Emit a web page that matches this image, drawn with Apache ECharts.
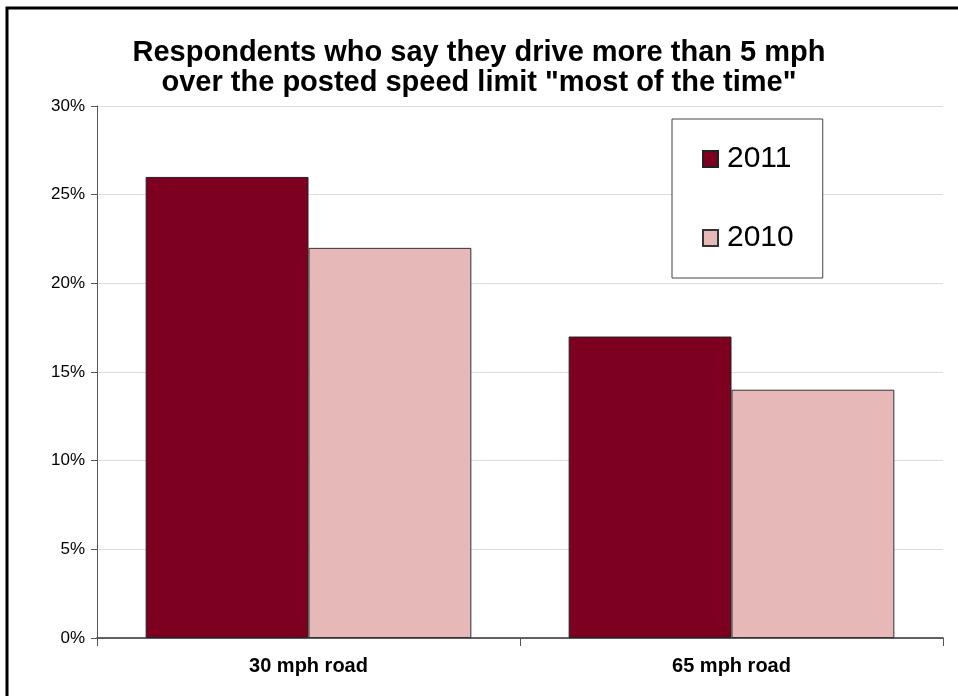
<!DOCTYPE html>
<html>
<head>
<meta charset="utf-8">
<script src="https://cdn.jsdelivr.net/npm/echarts@6/dist/echarts.min.js"></script>
<style>
  html, body { margin: 0; padding: 0; background: #fff; }
  #chart { width: 958px; height: 696px; }
</style>
</head>
<body>
<div id="chart"></div>
<script>
// Share of respondents (%) driving more than 5 mph over the limit "most of the time"
const categories = ['30 mph road', '65 mph road'];
const values2011 = [26, 17];
const values2010 = [22, 14];
const yTicks = { min: 0, max: 30, interval: 5 };

const chart = echarts.init(document.getElementById('chart'), null, { renderer: 'canvas' });

const font = 'Arial, "Liberation Sans", Helvetica, sans-serif';

chart.setOption({
  animation: false,
  backgroundColor: '#fff',
  title: {
    text: 'Respondents who say they drive more than 5 mph\nover the posted speed limit "most of the time"',
    left: 'center',
    top: 33,
    textStyle: {
      fontFamily: font,
      fontWeight: 'bold',
      fontSize: 29,
      lineHeight: 30,
      color: '#000'
    }
  },
  legend: {
    orient: 'vertical',
    left: 672,
    top: 119,
    padding: [24, 29, 24, 30],
    itemGap: 47,
    itemWidth: 15,
    itemHeight: 16,
    icon: 'rect',
    borderColor: '#444',
    borderWidth: 1,
    backgroundColor: '#fff',
    textStyle: { fontFamily: font, fontSize: 30, color: '#000', lineHeight: 32, padding: [0, 0, 0, 4] },
    data: ['2011', '2010']
  },
  grid: { left: 97, right: 15, top: 106, bottom: 58, containLabel: false },
  xAxis: {
    type: 'category',
    data: categories,
    axisLine: { lineStyle: { color: '#333', width: 1.5 } },
    axisTick: { show: true, length: 8, lineStyle: { color: '#555' } },
    axisLabel: {
      fontFamily: font, fontWeight: 'bold', fontSize: 20, color: '#000', margin: 18
    }
  },
  yAxis: {
    type: 'value',
    min: yTicks.min,
    max: yTicks.max,
    interval: yTicks.interval,
    axisLine: { show: true, lineStyle: { color: '#555' } },
    axisTick: { show: true, length: 6, lineStyle: { color: '#555' } },
    splitLine: { lineStyle: { color: '#dcdcdc' } },
    axisLabel: {
      formatter: '{value}%', fontFamily: font, fontSize: 17, color: '#000', margin: 12
    }
  },
  series: [
    {
      name: '2011',
      type: 'bar',
      data: values2011,
      barGap: '0%',
      barCategoryGap: '23%',
      itemStyle: { color: '#7d0020', borderColor: '#222', borderWidth: 1 }
    },
    {
      name: '2010',
      type: 'bar',
      data: values2010,
      itemStyle: { color: '#e6b8b7', borderColor: '#333', borderWidth: 1 }
    }
  ],
  graphic: [
    {
      type: 'rect',
      shape: { x: 7, y: 8, width: 980, height: 720 },
      style: { fill: null, stroke: '#000', lineWidth: 3 },
      silent: true
    }
  ]
});
</script>
</body>
</html>
